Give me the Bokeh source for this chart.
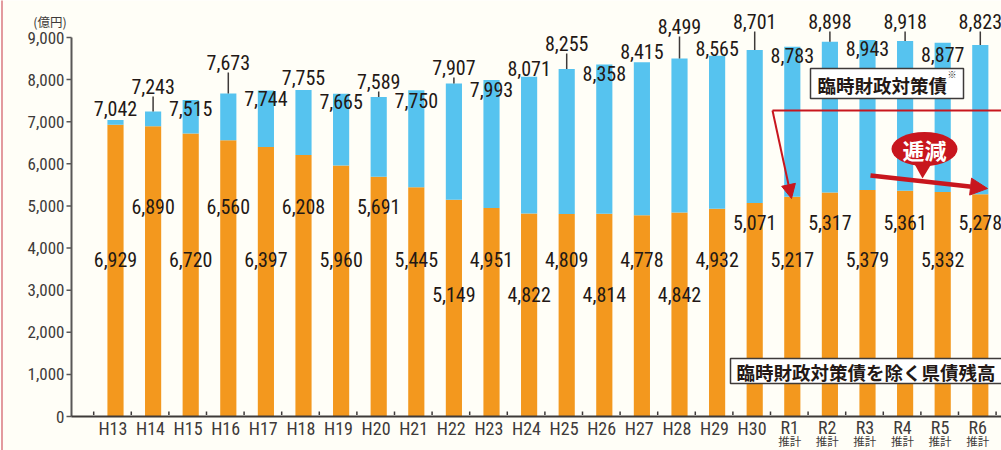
from bokeh.plotting import figure
from bokeh.models import Range1d, Arrow, NormalHead
from bokeh.core.properties import value
from bokeh.embed import file_html
from bokeh.resources import INLINE

# ---------------- data ----------------
categories = ["H13", "H14", "H15", "H16", "H17", "H18", "H19", "H20", "H21", "H22",
              "H23", "H24", "H25", "H26", "H27", "H28", "H29", "H30",
              "R1", "R2", "R3", "R4", "R5", "R6"]
estimate_note = "推計"
is_estimate = [False] * 18 + [True] * 6
# total prefectural bond balance (億円)
total = [7042, 7243, 7515, 7673, 7744, 7755, 7665, 7589, 7750, 7907,
         7993, 8071, 8255, 8358, 8415, 8499, 8565, 8701,
         8783, 8898, 8943, 8918, 8877, 8823]
# balance excluding 臨時財政対策債 (億円)
excl = [6929, 6890, 6720, 6560, 6397, 6208, 5960, 5691, 5445, 5149,
        4951, 4822, 4809, 4814, 4778, 4842, 4932, 5071,
        5217, 5317, 5379, 5361, 5332, 5278]
y_ticks = [0, 1000, 2000, 3000, 4000, 5000, 6000, 7000, 8000, 9000]
unit_label = "(億円)"
legend_rinji = "臨時財政対策債"
legend_excl = "臨時財政対策債を除く県債残高"
callout_text = "逓減"

# ---------------- layout (pixel positions of labels) ----------------
top_label_py = [108, 86, 108, 62, 98, 77, 101, 81, 100, 67, 89, 68,
                43, 73, 51, 26, 48, 21, 55, 21, 48, 21, 54, 21]
leader_idx = [1, 3, 7, 9, 12, 15, 17, 19, 21, 23]
bottom_label_py = [259, 206, 259, 206, 259, 206, 259, 206, 259, 294, 259, 294,
                   259, 294, 259, 294, 259, 222, 259, 222, 259, 222, 259, 222]

BG = "#FFFEF7"
ORANGE = "#F3981E"
BLUE = "#56C3EF"
RED = "#C8161E"
INK = "#231815"
AXIS = "#595757"
TXT = "#3E3A39"
NUM_FONT = "'Liberation Sans Narrow', 'Arial Narrow', 'Roboto Condensed', 'DejaVu Sans Condensed', sans-serif"
JP_FONT = "'Noto Sans CJK JP', sans-serif"

W, H = 1001, 450


def dx(px):
    return (px - 115) / 37.6


def dy(py):
    return (416 - py) * 1000 / 42.11


idx = list(range(len(categories)))

p = figure(width=W, height=H,
           x_range=Range1d(dx(0), dx(W)), y_range=Range1d(dy(H), dy(0)),
           output_backend="svg", toolbar_location=None,
           x_axis_location=None, y_axis_location=None,
           min_border_left=0, min_border_right=0, min_border_top=0, min_border_bottom=0,
           background_fill_color=BG, border_fill_color=BG, outline_line_color=None)
p.grid.visible = False

# decorative page edge line
p.segment(x0=[dx(1.5)], x1=[dx(1.5)], y0=[dy(-5)], y1=[dy(H + 5)], line_color="#E39A9E", line_width=2)

# bars
p.vbar(x=idx, bottom=0, top=excl, width=0.43, fill_color=ORANGE, line_color=None)
p.vbar(x=idx, bottom=excl, top=total, width=0.43, fill_color=BLUE, line_color=None)

# y axis (drawn on the plot's own scales)
p.segment(x0=[dx(71)], x1=[dx(71)], y0=[y_ticks[0]], y1=[y_ticks[-1]], line_color=AXIS, line_width=2)
p.segment(x0=[dx(66)] * len(y_ticks), x1=[dx(71)] * len(y_ticks), y0=y_ticks, y1=y_ticks,
          line_color=AXIS, line_width=1.5)
p.text(x=[dx(64)] * len(y_ticks), y=y_ticks, text=[f"{t:,}" for t in y_ticks],
       text_align="right", text_baseline="middle", text_font=value(NUM_FONT),
       text_font_size="17px", text_color=TXT)
p.text(x=[dx(49.5)], y=[dy(21)], text=[unit_label], text_align="center", text_baseline="middle",
       text_font=value(JP_FONT), text_font_size="12.5px", text_color=TXT)

# x axis line and boundary dots
p.segment(x0=[dx(71)], x1=[dx(W + 5)], y0=[0], y1=[0], line_color=TXT, line_width=2)
bounds_x = [i + 0.42 for i in range(-1, len(categories))]
p.segment(x0=bounds_x, x1=bounds_x, y0=[dy(414.5)] * len(bounds_x), y1=[dy(411)] * len(bounds_x),
          line_color=TXT, line_width=1.5)

# leader lines
p.segment(x0=[idx[i] for i in leader_idx], x1=[idx[i] for i in leader_idx],
          y0=[dy(top_label_py[i] + 10) for i in leader_idx], y1=[total[i] for i in leader_idx],
          line_color=TXT, line_width=1.5)

# value labels
p.text(x=idx, y=[dy(v) for v in top_label_py], text=[f"{t:,}" for t in total],
       text_align="center", text_baseline="middle", text_font=value(NUM_FONT),
       text_font_size="20px", text_color=INK)
p.text(x=idx, y=[dy(v) for v in bottom_label_py], text=[f"{t:,}" for t in excl],
       text_align="center", text_baseline="middle", text_font=value(NUM_FONT),
       text_font_size="20px", text_color=INK)

# category labels
hx = [i - 0.07 for i, e in zip(idx, is_estimate) if not e]
hl = [c for c, e in zip(categories, is_estimate) if not e]
rx = [i - 0.07 for i, e in zip(idx, is_estimate) if e]
rl = [c for c, e in zip(categories, is_estimate) if e]
p.text(x=hx, y=[dy(428)] * len(hx), text=hl, text_align="center", text_baseline="middle",
       text_font=value(NUM_FONT), text_font_size="18px", text_color=TXT)
p.text(x=rx, y=[dy(427)] * len(rx), text=rl, text_align="center", text_baseline="middle",
       text_font=value(NUM_FONT), text_font_size="18px", text_color=TXT)
p.text(x=rx, y=[dy(440)] * len(rx), text=[estimate_note] * len(rx), text_align="center",
       text_baseline="middle", text_font=value(JP_FONT), text_font_size="11.5px", text_color=TXT)

# legend boxes
p.quad(left=dx(810), right=dx(963), top=dy(68), bottom=dy(98), fill_color="white",
       line_color=TXT, line_width=1.5)
p.text(x=[dx(817)], y=[dy(84)], text=[legend_rinji], text_align="left", text_baseline="middle",
       text_font=value(JP_FONT), text_font_style="bold", text_font_size="18.5px", text_color=INK)
p.text(x=[dx(947)], y=[dy(74)], text=["※"], text_align="left", text_baseline="middle",
       text_font=value(JP_FONT), text_font_size="9px", text_color=INK)

p.quad(left=dx(730), right=dx(W + 10), top=dy(358), bottom=dy(383), fill_color="white",
       line_color=TXT, line_width=1.5)
p.text(x=[dx(736)], y=[dy(371)], text=[legend_excl], text_align="left",
       text_baseline="middle", text_font=value(JP_FONT), text_font_style="bold",
       text_font_size="18.5px", text_color=INK)

# red annotation lines / arrows
p.line(x=[dx(772), dx(W + 10)], y=[dy(110), dy(110)], line_color=RED, line_width=2)
p.add_layout(Arrow(end=NormalHead(size=14, fill_color=RED, line_color=RED),
                   x_start=dx(772), y_start=dy(110), x_end=dx(791), y_end=dy(198),
                   line_color=RED, line_width=2))
p.add_layout(Arrow(end=NormalHead(size=17, fill_color=RED, line_color=RED),
                   x_start=dx(870), y_start=dy(175), x_end=dx(987), y_end=dy(188),
                   line_color=RED, line_width=4.5))

# callout
p.patch(x=[dx(912), dx(933), dx(922)], y=[dy(160), dy(160), dy(178)], fill_color=RED, line_color=None)
p.ellipse(x=[dx(924)], y=[dy(148.5)], width=66, height=34, width_units="screen",
          height_units="screen", fill_color=RED, line_color=None)
p.text(x=[dx(924)], y=[dy(148)], text=[callout_text], text_align="center", text_baseline="middle",
       text_font=value(JP_FONT), text_font_style="bold", text_font_size="22px", text_color="white")

open("out.html", "w").write(file_html(p, INLINE))
